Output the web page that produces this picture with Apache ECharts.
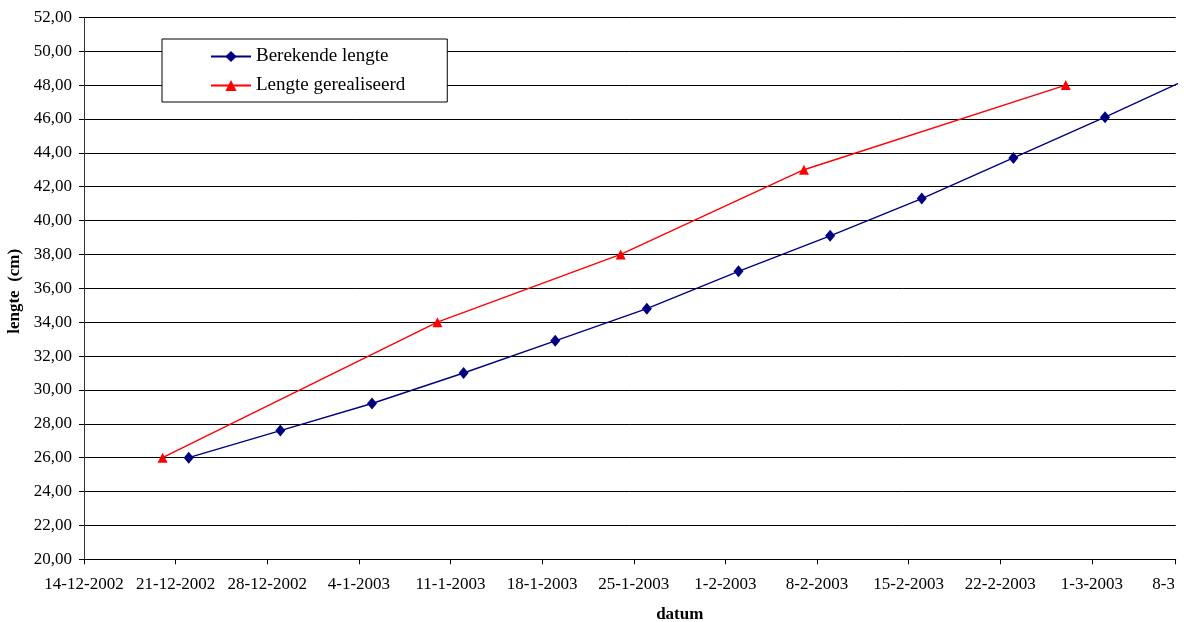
<!DOCTYPE html>
<html>
<head>
<meta charset="utf-8">
<title>Lengte</title>
<script src="https://cdn.jsdelivr.net/npm/echarts@6/dist/echarts.min.js"></script>
<style>
  html, body { margin: 0; padding: 0; background: #ffffff; }
  #chart { width: 1184px; height: 622px; }
</style>
</head>
<body>
<div id="chart"></div>
<script>
// Berekende lengte: weekly calculated length (cm)
const calcDates = ['2002-12-22', '2002-12-29', '2003-01-05', '2003-01-12', '2003-01-19', '2003-01-26',
                   '2003-02-02', '2003-02-09', '2003-02-16', '2003-02-23', '2003-03-02', '2003-03-09'];
const calcLength = [26.0, 27.6, 29.2, 31.0, 32.9, 34.8, 37.0, 39.1, 41.3, 43.7, 46.1, 48.6];

// Lengte gerealiseerd: measured length (cm)
const realDates = ['2002-12-20', '2003-01-10', '2003-01-24', '2003-02-07', '2003-02-27'];
const realLength = [26.0, 34.0, 38.0, 43.0, 48.0];

// Axis settings
const axisStart = '2002-12-14';
const axisLabelEnd = '2003-03-08';
const yMin = 20, yMax = 52, yStep = 2;

const DAY = 86400000;
const toTime = s => { const [y, m, d] = s.split('-').map(Number); return Date.UTC(y, m - 1, d); };
const fmtDate = v => { const d = new Date(v); return d.getUTCDate() + '-' + (d.getUTCMonth() + 1) + '-' + d.getUTCFullYear(); };
const fmtNum = v => v.toFixed(2).replace('.', ',');

const xMin = toTime(axisStart);
const xLabelMax = toTime(axisLabelEnd);
const xPlotMax = xMin + 83.4 * DAY;

const FONT = 'Liberation Serif';
const gridPos = { left: 84, top: 17.3, bottom: 62.7, containLabel: false, outerBoundsMode: 'none' };

const chart = echarts.init(document.getElementById('chart'), null, { renderer: 'canvas' });
chart.setOption({
  animation: false,
  backgroundColor: '#ffffff',
  textStyle: { fontFamily: FONT, color: '#000' },
  grid: [
    Object.assign({ right: 8.3 }, gridPos),
    Object.assign({ right: 0.5 }, gridPos)
  ],
  // the last date label runs off the chart area and is cut at its edge
  graphic: [{
    type: 'rect', z: 100, silent: true,
    shape: { x: 1174, y: 566, width: 20, height: 36 },
    style: { fill: '#ffffff' }
  }],
  legend: {
    left: 162, top: 39,
    orient: 'vertical',
    backgroundColor: '#ffffff',
    borderColor: '#000000',
    borderWidth: 1,
    borderRadius: 0,
    padding: [8, 42, 7, 48],
    itemWidth: 40,
    itemHeight: 14,
    itemGap: 10,
    textStyle: { fontFamily: FONT, fontSize: 19, color: '#000', lineHeight: 19 },
    data: ['Berekende lengte', 'Lengte gerealiseerd']
  },
  xAxis: [
    {
      type: 'value', gridIndex: 0,
      min: xMin, max: xPlotMax, interval: 7 * DAY,
      axisLine: { show: true, lineStyle: { color: '#000', width: 1 } },
      axisTick: { show: true, inside: false, length: 5, lineStyle: { color: '#000' } },
      axisLabel: { show: false },
      splitLine: { show: false }
    },
    {
      type: 'value', gridIndex: 1,
      min: xMin, max: xLabelMax, interval: 7 * DAY,
      axisLine: { show: false },
      axisTick: { show: false },
      splitLine: { show: false },
      axisLabel: {
        show: true, margin: 17, fontFamily: FONT, fontSize: 17, color: '#000',
        showMinLabel: true, showMaxLabel: true, hideOverlap: false,
        formatter: fmtDate
      },
      name: 'datum',
      nameLocation: 'middle',
      nameGap: 47,
      nameMoveOverlap: false,
      nameTextStyle: { fontFamily: FONT, fontSize: 17, fontWeight: 'bold', color: '#000', padding: [0, 0, 0, 92] }
    }
  ],
  yAxis: [
    {
      type: 'value', gridIndex: 0,
      min: yMin, max: yMax, interval: yStep,
      axisLine: { show: true, lineStyle: { color: '#333', width: 1 } },
      axisTick: { show: true, inside: false, length: 5, lineStyle: { color: '#000' } },
      axisLabel: { margin: 12, fontFamily: FONT, fontSize: 17, color: '#000', formatter: fmtNum },
      splitLine: { show: true, lineStyle: { color: '#000', width: 1 } },
      name: 'lengte  (cm)',
      nameLocation: 'middle',
      nameGap: 61,
      nameRotate: 90,
      nameMoveOverlap: false,
      nameTextStyle: { fontFamily: FONT, fontSize: 17, fontWeight: 'bold', color: '#000', padding: [0, 6, 0, 0] }
    },
    { type: 'value', gridIndex: 1, min: yMin, max: yMax, show: false }
  ],
  series: [
    {
      name: 'Berekende lengte',
      type: 'line',
      xAxisIndex: 0, yAxisIndex: 0,
      data: calcDates.map((d, i) => [toTime(d), calcLength[i]]),
      clip: true,
      symbol: 'diamond',
      symbolSize: [10, 12],
      showAllSymbol: true,
      color: '#000080',
      itemStyle: { color: '#000080' },
      lineStyle: { color: '#000080', width: 1.4 },
      z: 3
    },
    {
      name: 'Lengte gerealiseerd',
      type: 'line',
      xAxisIndex: 0, yAxisIndex: 0,
      data: realDates.map((d, i) => [toTime(d), realLength[i]]),
      clip: true,
      symbol: 'triangle',
      symbolSize: [10, 10],
      showAllSymbol: true,
      color: '#ff0000',
      itemStyle: { color: '#ff0000' },
      lineStyle: { color: '#ff0000', width: 1.4 },
      z: 4
    }
  ]
});
</script>
</body>
</html>
